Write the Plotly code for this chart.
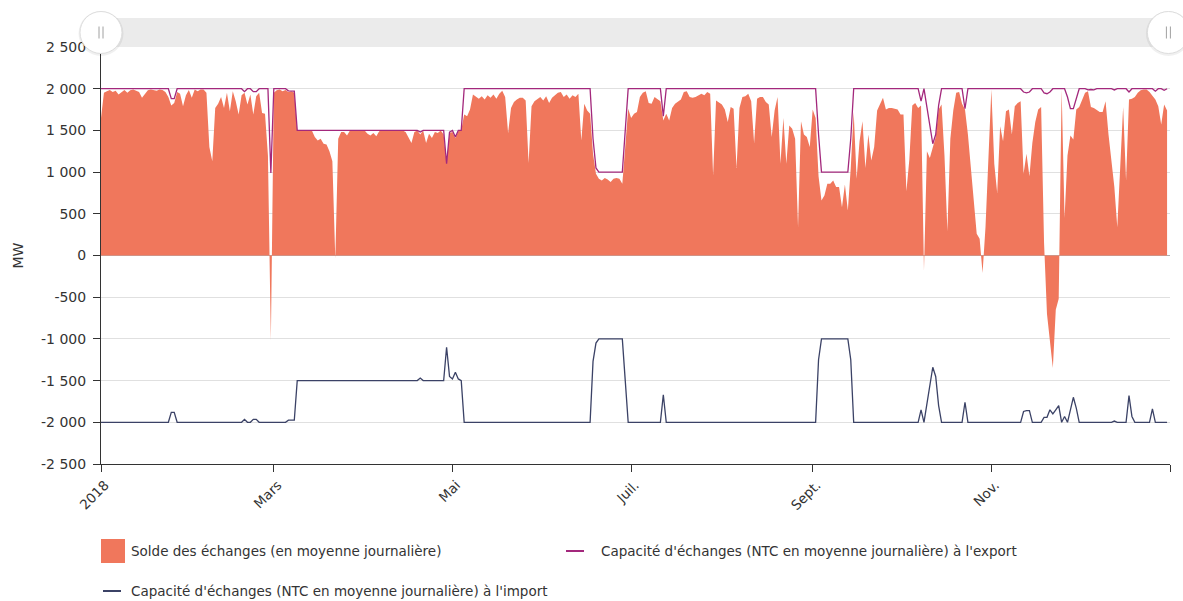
import pandas as pd
import plotly.graph_objects as go

# Daily dates for 2018
dates = pd.date_range("2018-01-01", "2018-12-31", freq="D")

# Daily mean exchange balance (MW)
solde = [
    1650, 1950, 1970, 1985, 1960, 1975, 1930, 1960, 1985, 1950,
    1980, 1990, 1975, 1960, 1890, 1930, 1980, 1990, 1985, 1975,
    1990, 1985, 1960, 1900, 1800, 1830, 1960, 1940, 1790, 1920,
    1985, 1890, 1990, 1970, 1990, 1990, 1950, 1300, 1130, 1770,
    1820, 1900, 1770, 1950, 1730, 1970, 1850, 1690, 1920, 1950,
    1810, 1930, 1690, 1910, 1950, 1710, 1700, 1200, -1020, 1950,
    1980, 1990, 1970, 1985, 1960, 1970, 1950, 1500, 1500, 1495,
    1500, 1495, 1500, 1420, 1380, 1400, 1340, 1330, 1250, 1130,
    -40, 1400, 1480, 1480, 1440, 1500, 1495, 1500, 1500, 1495,
    1500, 1460, 1440, 1470, 1430, 1490, 1500, 1500, 1495, 1500,
    1500, 1500, 1495, 1500, 1480, 1420, 1350, 1480, 1500, 1450,
    1500, 1350, 1460, 1410, 1480, 1470, 1500, 1450, 1100, 1470,
    1480, 1410, 1490, 1500, 1690, 1670, 1750, 1930, 1900, 1880,
    1910, 1870, 1920, 1890, 1930, 1880, 1940, 1975, 1900, 1470,
    1770, 1840, 1870, 1890, 1890, 1860, 1110, 1790, 1850, 1880,
    1900, 1860, 1910, 1830, 1890, 1920, 1950, 1960, 1900, 1930,
    1880, 1920, 1900, 1940, 1380, 1820, 1740, 1700, 1220, 980,
    920, 900, 930, 910, 880, 920, 930, 920, 860, 1300,
    1760, 1650, 1700, 1720, 1900, 1950, 1970, 1830, 1820, 1900,
    1870, 1850, 1620, 1700, 1620, 1770, 1820, 1850, 1870, 1960,
    1970, 1900, 1890, 1900, 1920, 1940, 1920, 1960, 1940, 960,
    1860, 1840, 1810, 1750, 1600, 1780, 1760, 1050, 1770, 1900,
    1910, 1940, 1850, 1350, 1880, 1900, 1900, 1840, 1810, 1420,
    1740, 1900, 1100, 1650, 1100, 1560, 1520, 1400, 340, 1610,
    1450, 1420, 1300, 1750, 1650, 950, 660, 720, 860, 860,
    900, 820, 820, 580, 850, 540, 1050, 1720, 920, 1370,
    1610, 1050, 1450, 1140, 1300, 1740, 1810, 1890, 1750, 1770,
    1770, 1760, 1750, 1690, 1690, 770, 1150, 1800, 1830, 1770,
    1800, -180, 1250, 1170, 1300, 1420, 1750, 1810, 1200, 290,
    1400, 1740, 1950, 1960, 1820, 1750, 1450, 1050, 650, 260,
    200, -210, 340, 1090, 1990, 1100, 750, 1550, 1370, 1730,
    1750, 1450, 1790, 1830, 1850, 980, 1220, 950, 1350, 1600,
    1750, 1780, 150, -700, -1025, -1350, -650, -520, 1990, 450,
    1200, 1440, 1390, 1750, 1780, 1870, 1950, 1970, 1780, 1770,
    1750, 1720, 1720, 1850, 1450, 1100, 820, 340, 1000, 1780,
    900, 1870, 1880, 1900, 1950, 1980, 1990, 1990, 1960, 1920,
    1870, 1790, 1570, 1810, 1740,
]

# Daily mean export NTC (MW)
ntc_export = [
    2000, 2000, 2000, 2000, 2000, 2000, 2000, 2000, 2000, 2000,
    2000, 2000, 2000, 2000, 2000, 2000, 2000, 2000, 2000, 2000,
    2000, 2000, 2000, 2000, 1880, 1880, 2000, 2000, 2000, 2000,
    2000, 2000, 2000, 2000, 2000, 2000, 2000, 2000, 2000, 2000,
    2000, 2000, 2000, 2000, 2000, 2000, 2000, 2000, 2000, 1965,
    2000, 2000, 1965, 1965, 2000, 2000, 2000, 2000, 990, 2000,
    2000, 2000, 2000, 2000, 1975, 1975, 1970, 1500, 1500, 1500,
    1500, 1500, 1500, 1500, 1500, 1500, 1500, 1500, 1500, 1500,
    1500, 1500, 1500, 1500, 1500, 1500, 1500, 1500, 1500, 1500,
    1500, 1500, 1500, 1500, 1500, 1500, 1500, 1500, 1500, 1500,
    1500, 1500, 1500, 1500, 1500, 1500, 1500, 1500, 1500, 1480,
    1500, 1500, 1500, 1500, 1500, 1500, 1500, 1500, 1100, 1480,
    1500, 1420, 1500, 1500, 2000, 2000, 2000, 2000, 2000, 2000,
    2000, 2000, 2000, 2000, 2000, 2000, 2000, 2000, 2000, 2000,
    2000, 2000, 2000, 2000, 2000, 2000, 2000, 2000, 2000, 2000,
    2000, 2000, 2000, 2000, 2000, 2000, 2000, 2000, 2000, 2000,
    2000, 2000, 2000, 2000, 2000, 2000, 2000, 2000, 1400, 1050,
    1000, 1000, 1000, 1000, 1000, 1000, 1000, 1000, 1000, 1500,
    2000, 2000, 2000, 2000, 2000, 2000, 2000, 2000, 2000, 2000,
    2000, 2000, 1670, 2000, 2000, 2000, 2000, 2000, 2000, 2000,
    2000, 2000, 2000, 2000, 2000, 2000, 2000, 2000, 2000, 2000,
    2000, 2000, 2000, 2000, 2000, 2000, 2000, 2000, 2000, 2000,
    2000, 2000, 2000, 2000, 2000, 2000, 2000, 2000, 2000, 2000,
    2000, 2000, 2000, 2000, 2000, 2000, 2000, 2000, 2000, 2000,
    2000, 2000, 2000, 2000, 2000, 1450, 1000, 1000, 1000, 1000,
    1000, 1000, 1000, 1000, 1000, 1000, 1400, 2000, 2000, 2000,
    2000, 2000, 2000, 2000, 2000, 2000, 2000, 2000, 2000, 2000,
    2000, 2000, 2000, 2000, 2000, 2000, 2000, 2000, 2000, 2000,
    1850, 2000, 1780, 1560, 1340, 1450, 1800, 2000, 2000, 2000,
    2000, 2000, 2000, 2000, 2000, 1760, 2000, 2000, 2000, 2000,
    2000, 2000, 2000, 2000, 2000, 2000, 2000, 2000, 2000, 2000,
    2000, 2000, 2000, 2000, 2000, 1960, 1950, 1960, 2000, 2000,
    2000, 2000, 1950, 1940, 1960, 2000, 2000, 2000, 2000, 2000,
    1900, 1760, 1760, 1880, 2000, 2000, 2000, 1985, 1990, 1985,
    2000, 2000, 2000, 2000, 2000, 2000, 1985, 2000, 2000, 2000,
    2000, 1960, 2000, 2000, 2000, 2000, 2000, 2000, 2000, 2000,
    1970, 2000, 2000, 1980, 2000,
]

# Daily mean import NTC (MW)
ntc_import = [
    -2000, -2000, -2000, -2000, -2000, -2000, -2000, -2000, -2000, -2000,
    -2000, -2000, -2000, -2000, -2000, -2000, -2000, -2000, -2000, -2000,
    -2000, -2000, -2000, -2000, -1880, -1880, -2000, -2000, -2000, -2000,
    -2000, -2000, -2000, -2000, -2000, -2000, -2000, -2000, -2000, -2000,
    -2000, -2000, -2000, -2000, -2000, -2000, -2000, -2000, -2000, -1965,
    -2000, -2000, -1965, -1965, -2000, -2000, -2000, -2000, -2000, -2000,
    -2000, -2000, -2000, -2000, -1975, -1975, -1975, -1500, -1500, -1500,
    -1500, -1500, -1500, -1500, -1500, -1500, -1500, -1500, -1500, -1500,
    -1500, -1500, -1500, -1500, -1500, -1500, -1500, -1500, -1500, -1500,
    -1500, -1500, -1500, -1500, -1500, -1500, -1500, -1500, -1500, -1500,
    -1500, -1500, -1500, -1500, -1500, -1500, -1500, -1500, -1500, -1470,
    -1500, -1500, -1500, -1500, -1500, -1500, -1500, -1500, -1100, -1450,
    -1480, -1400, -1480, -1500, -2000, -2000, -2000, -2000, -2000, -2000,
    -2000, -2000, -2000, -2000, -2000, -2000, -2000, -2000, -2000, -2000,
    -2000, -2000, -2000, -2000, -2000, -2000, -2000, -2000, -2000, -2000,
    -2000, -2000, -2000, -2000, -2000, -2000, -2000, -2000, -2000, -2000,
    -2000, -2000, -2000, -2000, -2000, -2000, -2000, -2000, -1270, -1050,
    -1000, -1000, -1000, -1000, -1000, -1000, -1000, -1000, -1000, -1500,
    -2000, -2000, -2000, -2000, -2000, -2000, -2000, -2000, -2000, -2000,
    -2000, -2000, -1670, -2000, -2000, -2000, -2000, -2000, -2000, -2000,
    -2000, -2000, -2000, -2000, -2000, -2000, -2000, -2000, -2000, -2000,
    -2000, -2000, -2000, -2000, -2000, -2000, -2000, -2000, -2000, -2000,
    -2000, -2000, -2000, -2000, -2000, -2000, -2000, -2000, -2000, -2000,
    -2000, -2000, -2000, -2000, -2000, -2000, -2000, -2000, -2000, -2000,
    -2000, -2000, -2000, -2000, -2000, -1250, -1000, -1000, -1000, -1000,
    -1000, -1000, -1000, -1000, -1000, -1000, -1250, -2000, -2000, -2000,
    -2000, -2000, -2000, -2000, -2000, -2000, -2000, -2000, -2000, -2000,
    -2000, -2000, -2000, -2000, -2000, -2000, -2000, -2000, -2000, -2000,
    -1850, -2000, -1780, -1560, -1340, -1450, -1800, -2000, -2000, -2000,
    -2000, -2000, -2000, -2000, -2000, -1760, -2000, -2000, -2000, -2000,
    -2000, -2000, -2000, -2000, -2000, -2000, -2000, -2000, -2000, -2000,
    -2000, -2000, -2000, -2000, -2000, -1870, -1860, -1860, -2000, -2000,
    -2000, -2000, -1940, -1940, -1850, -1900, -1850, -1800, -2000, -1930,
    -2000, -1850, -1700, -1830, -2000, -2000, -2000, -2000, -2000, -2000,
    -2000, -2000, -2000, -2000, -2000, -2000, -1985, -2000, -2000, -2000,
    -2000, -1680, -1930, -2000, -2000, -2000, -2000, -2000, -2000, -1840,
    -2000, -2000, -2000, -2000, -2000,
]

series_names = [
    "Solde des échanges (en moyenne journalière)",
    "Capacité d'échanges (NTC en moyenne journalière) à l'export",
    "Capacité d'échanges (NTC en moyenne journalière) à l'import",
]

month_ticks = ["2018-01-01", "2018-03-01", "2018-05-01", "2018-07-01",
               "2018-09-01", "2018-11-01", "2019-01-01"]
month_labels = ["2018", "Mars", "Mai", "Juil.", "Sept.", "Nov.", ""]

mw_ticks = [-2500, -2000, -1500, -1000, -500, 0, 500, 1000, 1500, 2000, 2500]
mw_labels = ["-2 500", "-2 000", "-1 500", "-1 000", "-500", "0",
             "500", "1 000", "1 500", "2 000", "2 500"]

COL_SOLDE = "#f0775c"
COL_EXPORT = "#a3287c"
COL_IMPORT = "#3b4266"
TXT = "#333333"
FONT = "DejaVu Sans"

# page geometry (pixels)
W, H = 1183, 601
L, R, T, B = 101, 13, 47, 137
PW, PH = W - L - R, H - T - B


def px(x):
    return (x - L) / PW


def py(y):
    return (T + PH - y) / PH


fig = go.Figure()
fig.add_trace(go.Scatter(
    x=dates, y=solde, name=series_names[0], mode="lines",
    fill="tozeroy", fillcolor=COL_SOLDE, line=dict(width=0, color=COL_SOLDE),
))
fig.add_trace(go.Scatter(
    x=dates, y=ntc_export, name=series_names[1], mode="lines",
    line=dict(width=1.3, color=COL_EXPORT),
))
fig.add_trace(go.Scatter(
    x=dates, y=ntc_import, name=series_names[2], mode="lines",
    line=dict(width=1.3, color=COL_IMPORT),
))

shapes = []
annotations = []

# range navigator band with its two round handles
shapes.append(dict(type="rect", xref="paper", yref="paper",
                   x0=0, x1=1, y0=py(47), y1=py(18),
                   fillcolor="#ebebeb", line=dict(width=0), layer="below"))
for hx in (0.0, 0.9985):
    shapes.append(dict(type="circle", xref="paper", yref="paper",
                       xsizemode="pixel", ysizemode="pixel",
                       xanchor=hx, yanchor=py(33.5),
                       x0=-22.5, x1=22.5, y0=-22.5, y1=22.5,
                       fillcolor="rgba(0,0,0,0.06)", line=dict(width=0)))
    shapes.append(dict(type="circle", xref="paper", yref="paper",
                       xsizemode="pixel", ysizemode="pixel",
                       xanchor=hx, yanchor=py(32.5),
                       x0=-21, x1=21, y0=-21, y1=21,
                       fillcolor="white", line=dict(width=1, color="#dddddd")))
    for gx in (-2, 2):
        shapes.append(dict(type="line", xref="paper", yref="paper",
                           xsizemode="pixel", ysizemode="pixel",
                           xanchor=hx, yanchor=py(32.5),
                           x0=gx, x1=gx, y0=-6, y1=6,
                           line=dict(width=1, color="#a0a0a0")))

# legend
legend_items = [
    # (symbol kind, colour, symbol x, text x, row y)
    ("box", COL_SOLDE, 101, 129, 551),
    ("line", COL_EXPORT, 566, 599, 551),
    ("line", COL_IMPORT, 103, 129, 591),
]
for (kind, col, sx, tx, ry), name in zip(legend_items, series_names):
    if kind == "box":
        shapes.append(dict(type="rect", xref="paper", yref="paper",
                           xsizemode="pixel", ysizemode="pixel",
                           xanchor=px(sx), yanchor=py(ry),
                           x0=0, x1=24, y0=-12, y1=12,
                           fillcolor=col, line=dict(width=0)))
    else:
        shapes.append(dict(type="line", xref="paper", yref="paper",
                           xsizemode="pixel", ysizemode="pixel",
                           xanchor=px(sx), yanchor=py(ry),
                           x0=0, x1=18, y0=0, y1=0,
                           line=dict(width=2, color=col)))
    annotations.append(dict(text=name, xref="paper", yref="paper",
                            x=px(tx), y=py(ry), xanchor="left", yanchor="middle",
                            showarrow=False, font=dict(family=FONT, size=13.5, color=TXT)))

fig.update_layout(
    width=W, height=H,
    margin=dict(l=L, r=R, t=T, b=B),
    paper_bgcolor="white", plot_bgcolor="white",
    showlegend=False,
    font=dict(family=FONT, size=13, color=TXT),
    shapes=shapes,
    annotations=annotations,
    xaxis=dict(
        type="date",
        range=["2018-01-01", "2019-01-01"],
        tickvals=month_ticks, ticktext=month_labels,
        tickangle=-45,
        ticks="outside", ticklen=7, tickcolor=TXT,
        showline=True, linecolor=TXT, linewidth=1,
        showgrid=False, zeroline=False,
        ticklabelshift=4,
        tickfont=dict(family=FONT, size=13.5, color=TXT),
    ),
    yaxis=dict(
        range=[-2500, 2500],
        tickvals=mw_ticks, ticktext=mw_labels,
        ticks="outside", ticklen=7, tickcolor=TXT,
        showline=True, linecolor=TXT, linewidth=1,
        showgrid=True, gridcolor="#e0e0e0", gridwidth=1,
        zeroline=True, zerolinecolor="#b0b0b0", zerolinewidth=1,
        ticklabelstandoff=4,
        tickfont=dict(family=FONT, size=14, color=TXT),
        title=dict(text="MW", standoff=14, font=dict(family=FONT, size=14, color=TXT)),
    ),
)

fig.write_html("out.html")
